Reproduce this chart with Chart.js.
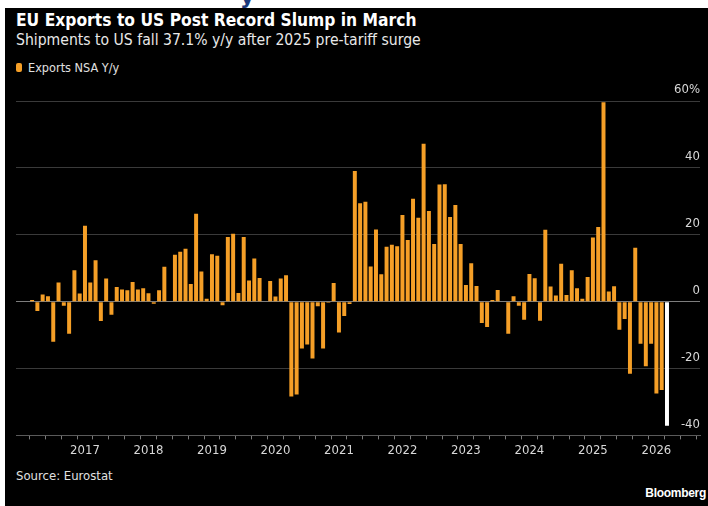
<!DOCTYPE html>
<html>
<head>
<meta charset="utf-8">
<script src="https://cdn.jsdelivr.net/npm/chart.js@4.4.1/dist/chart.umd.min.js"></script>
<style>
    html, body { margin: 0; padding: 0; background: #fff; width: 708px; height: 506px; overflow: hidden; }
    .cond   { font-family: "Liberation Sans Narrow", "DejaVu Sans Condensed", "Roboto Condensed", sans-serif; }
    #blue   { position: absolute; left: 240px; top: -16px; font: bold 22px "DejaVu Sans", sans-serif; color: #1d3a7c; }
    #panel  { position: absolute; left: 5px; top: 8px; width: 703px; height: 498px; background: #000; }
    #title  { position: absolute; left: 16px; top: 10px; font-size: 17.3px; font-weight: bold; color: #fff; white-space: nowrap; }
    #sub    { position: absolute; left: 16px; top: 31px; font-size: 15.6px; color: #e8e8e8; white-space: nowrap; }
    #lg-box { position: absolute; left: 16px; top: 63px; width: 6px; height: 9px; border-radius: 2px; background: #f59f27; }
    #lg-txt { position: absolute; left: 28px; top: 60px; font-size: 12.6px; color: #e0e0e0; white-space: nowrap; }
    #source { position: absolute; left: 16px; top: 468px; font-size: 13px; color: #e0e0e0; }
    #brand  { position: absolute; right: 2px; top: 486px; font: bold 12px "Liberation Sans", Arial, sans-serif; color: #fff; letter-spacing: -0.3px; }
    #wrap   { position: absolute; left: 0; top: 80px; width: 708px; height: 385px; }
</style>
</head>
<body>
<div id="blue">y</div>
<div id="panel"></div>
<div id="title" class="cond">EU Exports to US Post Record Slump in March</div>
<div id="sub" class="cond">Shipments to US fall 37.1% y/y after 2025 pre-tariff surge</div>
<div id="lg-box"></div>
<div id="lg-txt" class="cond">Exports NSA Y/y</div>
<div id="source" class="cond">Source: Eurostat</div>
<div id="brand">Bloomberg</div>
<div id="wrap"><canvas id="ch"></canvas></div>

<script>
// ── Datos: exportaciones UE -> EEUU, % a/a, mensual Mar 2016 - Mar 2026 ──
const START_YEAR  = 2016;
const START_MONTH = 3;      // marzo

const exportsYoY = [
    // 2016 (mar-dic)
    0.5, -2.8, 2.1, 1.6, -12.0, 5.7, -1.2, -9.6, 9.4, 2.4,
    // 2017
    22.7, 5.7, 12.4, -5.8, 6.9, -3.9, 4.4, 3.6, 3.4, 5.9, 3.6, 4.0,
    // 2018
    2.5, -0.6, 3.4, 10.4, -0.2, 14.0, 14.9, 15.8, 5.3, 26.3, 9.0, 0.9,
    // 2019
    14.2, 13.7, -1.1, 19.3, 20.3, 2.6, 19.3, 6.3, 12.9, 7.1, 0.0, 6.2,
    // 2020
    1.5, 6.9, 7.9, -28.4, -27.8, -14.0, -12.8, -17.0, -1.4, -14.0, -0.3, 5.6,
    // 2021
    -9.2, -4.3, -0.7, 39.1, 29.4, 29.9, 10.5, 21.6, 8.2, 16.4, 17.0, 16.6,
    // 2022
    25.9, 18.4, 30.8, 25.1, 47.2, 27.1, 17.2, 35.0, 35.1, 25.3, 28.9, 17.2,
    // 2023
    5.0, 11.5, 4.7, -6.4, -7.6, 0.5, 3.5, 0.0, -9.6, 1.6, -1.2, -5.4,
    // 2024
    8.3, 7.0, -5.7, 21.5, 4.5, 1.8, 11.3, 2.0, 9.4, 4.0, 0.9, 7.4,
    // 2025
    19.2, 22.3, 59.6, 3.0, 4.6, -8.4, -5.2, -21.6, 16.1, -12.6, -19.3, -12.6,
    // 2026 (ene-mar)
    -27.5, -26.4, -37.1,
];

const yearLabels = ['2017', '2018', '2019', '2020', '2021', '2022', '2023', '2024', '2025', '2026'];
const yTicks     = [-40, -20, 0, 20, 40, 60];

const ORANGE = '#f59f27';
const LAST   = '#ffffff';
const FONT   = '"Liberation Sans Narrow", "DejaVu Sans Condensed", "Roboto Condensed", sans-serif';

// indice de mes -> mes del calendario (0 = enero)
const monthOf = i => ((START_MONTH - 1 + i) % 12 + 12) % 12;
const yearOf  = i => START_YEAR + Math.floor((START_MONTH - 1 + i) / 12);

const points = exportsYoY.map((v, i) => ({ x: i, y: v }));

// marcas trimestrales (ene/abr/jul/oct) del eje x
const quarterTicks = [];
for (let i = -1; i <= exportsYoY.length + 3; i++) {
    if (monthOf(i) % 3 === 0) quarterTicks.push(i);
}

Chart.defaults.font.family = FONT;

new Chart(document.getElementById('ch').getContext('2d'), {
    type: 'bar',
    data: {
        datasets: [{
            label: 'Exports NSA Y/y',
            data: points,
            backgroundColor: c => c.dataIndex === exportsYoY.length - 1 ? LAST : ORANGE,
            borderWidth: 0,
            barPercentage: 0.75,
            categoryPercentage: 1,
        }],
    },
    options: {
        responsive: true, maintainAspectRatio: false,
        animation: false,
        layout: { padding: { left: 16, right: 8, top: 21, bottom: 4 } },
        plugins: { legend: { display: false }, tooltip: { enabled: false } },
        scales: {
            x: {
                type: 'linear',
                min: -1.5, max: 124.7,
                afterBuildTicks: ax => { ax.ticks = quarterTicks.filter(v => v >= ax.min && v <= ax.max).map(v => ({ value: v })); },
                grid:   { drawOnChartArea: false, drawTicks: true, tickLength: 4, color: '#7a7a7a', tickColor: '#7a7a7a' },
                border: { display: true, color: '#5a5a5a' },
                ticks: {
                    autoSkip: false, maxRotation: 0, padding: 3,
                    color: '#d8d8d8', font: { size: 13 },
                    callback: v => monthOf(v) === 0 ? (yearLabels.find(y => y === String(yearOf(v))) ?? '') : '',
                },
            },
            y: {
                position: 'right',
                min: -40, max: 60,
                afterBuildTicks: ax => { ax.ticks = yTicks.map(v => ({ value: v })); },
                grid:   { drawTicks: false, color: c => c.tick.value === 0 ? '#7d7d7d' : '#3a3a3a', lineWidth: 1 },
                border: { display: false },
                ticks: {
                    mirror: true, padding: 0, labelOffset: -11,
                    color: '#d8d8d8', font: { size: 13 },
                    callback: v => v === 60 ? '60%' : String(v),
                },
            },
        },
    },
});
</script>
</body>
</html>
